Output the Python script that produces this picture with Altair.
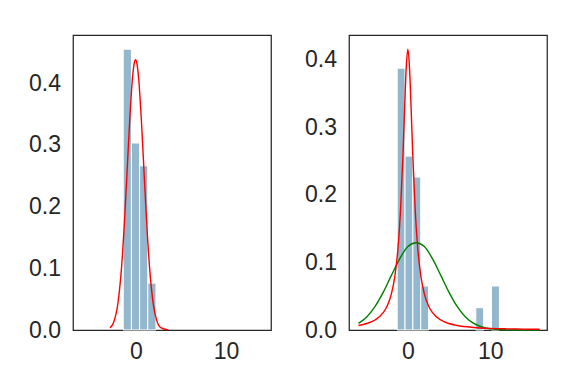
import altair as alt
import pandas as pd

# ---------------- Left panel ----------------
left_bin_start = [-1.42, -0.51, 0.40, 1.31]
left_bin_end = [-0.51, 0.40, 1.31, 2.22]
left_density = [0.455, 0.303, 0.266, 0.076]

left_red_x = [-2.9, -2.5, -2.0, -1.6, -1.3, -1.0, -0.7, -0.4, -0.2, -0.05,
              0.1, 0.3, 0.6, 0.9, 1.2, 1.5, 1.9, 2.3, 2.8, 3.6]
left_red_y = [0.0035, 0.0117, 0.0441, 0.1027, 0.1705, 0.254, 0.3394, 0.4068, 0.4321, 0.438,
              0.4321, 0.4068, 0.3394, 0.254, 0.1705, 0.1027, 0.0441, 0.0156, 0.0033, 0.0002]

# ---------------- Right panel ----------------
right_bin_start = [-1.30, -0.345, 0.61, 1.565, 8.25, 10.16]
right_bin_end = [-0.345, 0.61, 1.565, 2.52, 9.205, 11.115]
right_density = [0.387, 0.257, 0.226, 0.065, 0.033, 0.065]

right_red_x = [-6.0, -5.0, -4.0, -3.0, -2.5, -2.0, -1.6, -1.2, -0.9, -0.6, -0.4, -0.2, 0.0,
               0.2, 0.4, 0.6, 0.9, 1.2, 1.6, 2.0, 2.5, 3.0, 4.0, 5.0, 6.0, 8.0, 10.0, 12.0, 14.0, 16.0]
right_red_y = [0.0067, 0.0096, 0.0148, 0.0256, 0.0359, 0.0535, 0.0779, 0.1207, 0.175, 0.2576, 0.326, 0.3878, 0.415,
               0.3878, 0.326, 0.2576, 0.175, 0.1207, 0.0779, 0.0535, 0.0359, 0.0256, 0.0148, 0.0096, 0.0067,
               0.0038, 0.0024, 0.0017, 0.0013, 0.0010]

right_green_x = [-6.0, -5.0, -4.0, -3.0, -2.0, -1.0, 0.0, 1.0, 2.0, 3.0, 4.0, 5.0, 6.0, 7.0,
                 8.0, 9.0, 10.0, 11.0, 12.0, 13.0, 14.0, 16.0]
right_green_y = [0.0097, 0.0193, 0.0345, 0.0556, 0.0807, 0.1051, 0.1233, 0.129, 0.1233, 0.1051, 0.0807,
                 0.0556, 0.0345, 0.0193, 0.0097, 0.0044, 0.0018, 0.0007, 0.0002, 0.0001, 0.0, 0.0]

BAR_COLOR = "#93b7cc"
FRAME = "#262626"
FONT = "Liberation Sans"


def panel(bin_start, bin_end, density, curves, xdom, ydom):
    xs = alt.Scale(domain=xdom, nice=False, zero=False)
    ys = alt.Scale(domain=ydom, nice=False, zero=True)
    xaxis = alt.Axis(values=[0, 10], format="d", ticks=False, domain=False, grid=False,
                     title=None, labelPadding=10)
    yaxis = alt.Axis(values=[0, 0.1, 0.2, 0.3, 0.4], format=".1f", ticks=False, domain=False,
                     grid=False, title=None, labelPadding=12.5, minExtent=63.7, maxExtent=63.7)
    bars_df = pd.DataFrame({"x0": bin_start, "x1": bin_end, "d": density})
    bars = alt.Chart(bars_df).mark_rect(color=BAR_COLOR, stroke="white", strokeWidth=1).encode(
        x=alt.X("x0:Q", scale=xs, axis=xaxis),
        x2="x1:Q",
        y=alt.Y("d:Q", scale=ys, axis=yaxis),
        y2=alt.datum(0),
    )
    layers = [bars]
    for cx, cy, col in curves:
        cdf = pd.DataFrame({"x": cx, "y": cy})
        layers.append(
            alt.Chart(cdf).mark_line(color=col, strokeWidth=1.4, interpolate="monotone").encode(
                x=alt.X("x:Q", scale=xs, axis=xaxis),
                y=alt.Y("y:Q", scale=ys, axis=yaxis),
            )
        )
    return alt.layer(*layers).properties(width=198, height=295)


left = panel(left_bin_start, left_bin_end, left_density,
             [(left_red_x, left_red_y, "red")], [-7.0, 15.0], [0, 0.478])
right = panel(right_bin_start, right_bin_end, right_density,
              [(right_green_x, right_green_y, "green"), (right_red_x, right_red_y, "red")],
              [-7.15, 16.9], [0, 0.436])

chart = alt.hconcat(left, right, spacing=12).properties(
    padding={"left": 0, "top": 26, "right": 5, "bottom": 5},
    background="white",
).configure_view(stroke=FRAME, strokeWidth=1.25).configure_axis(
    labelFont=FONT, labelFontSize=23, labelColor=FRAME
)

chart.save("out.html", embed_options={"renderer": "svg", "actions": False})
